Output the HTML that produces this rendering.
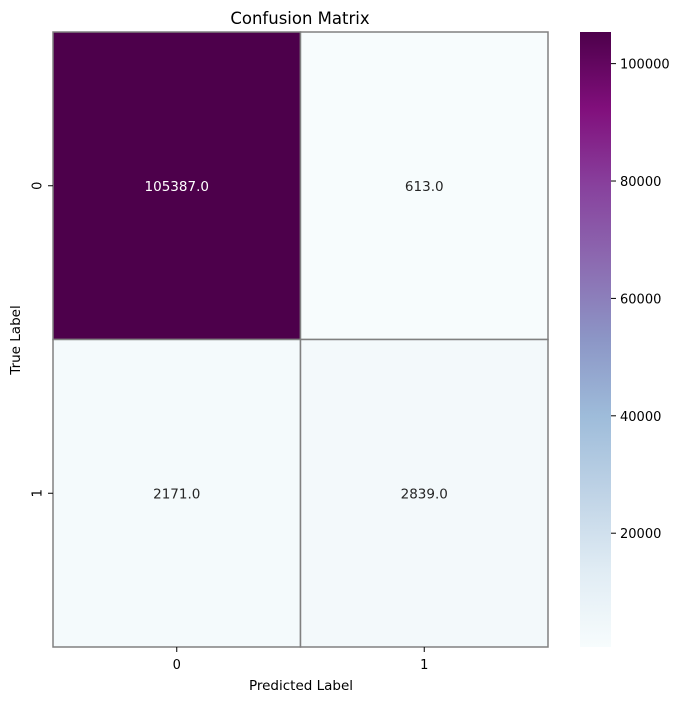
<!DOCTYPE html>
<html><head><meta charset="utf-8"><style>
body{margin:0;background:#fff;font-family:"Liberation Sans","DejaVu Sans",sans-serif;}
svg text{font-family:"DejaVu Sans","Liberation Sans",sans-serif;}
</style></head><body>
<svg id="chart" width="683" height="701" xmlns="http://www.w3.org/2000/svg">
<defs>
<linearGradient id="cbg" x1="0" y1="1" x2="0" y2="0">
<stop offset="0" stop-color="#f7fcfd"/><stop offset="0.125" stop-color="#e0ecf4"/><stop offset="0.25" stop-color="#bfd3e6"/><stop offset="0.375" stop-color="#9ebcda"/><stop offset="0.5" stop-color="#8c96c6"/><stop offset="0.625" stop-color="#8c6bb1"/><stop offset="0.75" stop-color="#88419d"/><stop offset="0.875" stop-color="#810f7c"/><stop offset="1" stop-color="#4d004b"/>
</linearGradient>
</defs>
<text x="300" y="24" font-size="16.5" text-anchor="middle">Confusion Matrix</text>
<g id="cells"></g>
<g id="axes"></g>
<rect x="580" y="32" width="31" height="615" fill="url(#cbg)"/>
<g id="cbticks"></g>
<text x="301" y="690" font-size="13.5" text-anchor="middle">Predicted Label</text>
<text x="20" y="340" font-size="13.5" text-anchor="middle" transform="rotate(-90 20 340)">True Label</text>
</svg>
<script>
const rowLabels = ["0","1"];
const colLabels = ["0","1"];
const values = [[105387,613],[2171,2839]];
const cbTicks = [20000,40000,60000,80000,100000];
const vmin = 613, vmax = 105387;
const stops = ["#f7fcfd","#e0ecf4","#bfd3e6","#9ebcda","#8c96c6","#8c6bb1","#88419d","#810f7c","#4d004b"];
const X0=53,X1=548,Y0=32,Y1=647,CB0=32,CB1=647;
const NS="http://www.w3.org/2000/svg";
function hex(h){return [1,3,5].map(i=>parseInt(h.substr(i,2),16));}
function color(v){let t=(v-vmin)/(vmax-vmin);t=Math.max(0,Math.min(1,t))*(stops.length-1);const i=Math.min(Math.floor(t),stops.length-2),f=t-i;const a=hex(stops[i]),b=hex(stops[i+1]);return "rgb("+a.map((c,k)=>Math.round(c+(b[k]-c)*f)).join(",")+")";}
function xs(j){return X0+(X1-X0)*j/colLabels.length;}
function ys(i){return Y0+(Y1-Y0)*i/rowLabels.length;}
function cby(v){return CB1-(v-vmin)/(vmax-vmin)*(CB1-CB0);}
function mk(tag,attrs,parent){const e=document.createElementNS(NS,tag);for(const k in attrs)e.setAttribute(k,attrs[k]);parent.appendChild(e);return e;}
const cells=document.getElementById('cells'),axes=document.getElementById('axes'),cbt=document.getElementById('cbticks');
const cw=(X1-X0)/colLabels.length,ch=(Y1-Y0)/rowLabels.length;
values.forEach((row,i)=>row.forEach((v,j)=>{
 const r=mk('rect',{x:xs(j),y:ys(i),width:cw,height:ch,fill:color(v),stroke:'#808080','stroke-width':1.5},cells);
 
 
 const t=mk('text',{x:xs(j)+cw/2,y:ys(i)+ch/2+5,'font-size':13.5,'text-anchor':'middle',fill:(v-vmin)/(vmax-vmin)>0.5?'#fff':'#262626'},cells);
 t.textContent=v.toFixed(1);
 
 
}));
colLabels.forEach((l,j)=>{
 const x=xs(j)+cw/2;
 mk('line',{x1:x,x2:x,y1:Y1,y2:Y1+5,stroke:'#000'},axes);
 const t=mk('text',{x:x,y:Y1+22,'font-size':13,'text-anchor':'middle'},axes);
 t.textContent=l;
 
 
});
rowLabels.forEach((l,i)=>{
 const y=ys(i)+ch/2;
 mk('line',{x1:X0-5,x2:X0,y1:y,y2:y,stroke:'#000'},axes);
 const t=mk('text',{x:X0-16,y:y,'font-size':13,'text-anchor':'middle',transform:'rotate(-90 '+(X0-16)+' '+y+')',dy:'0.35em'},axes);
 t.textContent=l;
 
 
});
cbTicks.forEach(v=>{
 const y=cby(v);
 mk('line',{x1:611,x2:616,y1:y,y2:y,stroke:'#000'},cbt);
 const t=mk('text',{x:620,y:y+5,'font-size':13},cbt);
 t.textContent=v;
 
 
});
</script>
</body></html>
